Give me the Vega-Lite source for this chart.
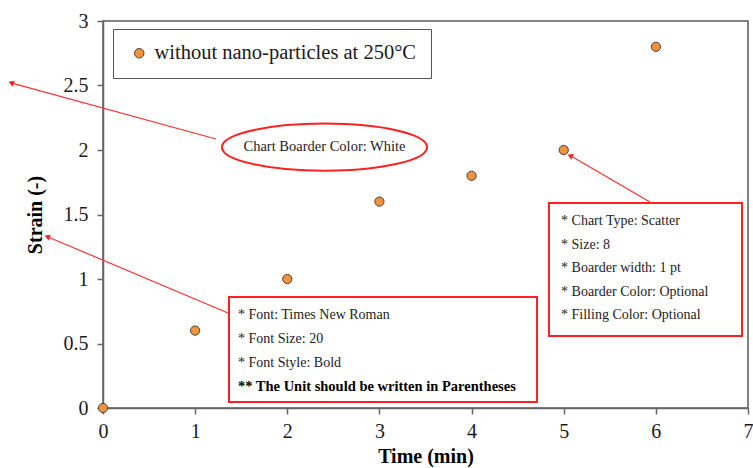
{
  "$schema": "https://vega.github.io/schema/vega-lite/v6.json",
  "width": 645,
  "height": 387,
  "autosize": {"type": "none"},
  "padding": {"left": 103, "top": 21, "right": 5, "bottom": 60},
  "background": "white",
  "config": {
    "view": {"stroke": "#595959", "strokeWidth": 1.5},
    "font": "Liberation Serif"
  },
  "datasets": {
    "points": [
      {"x": 0, "y": 0}, {"x": 1, "y": 0.6}, {"x": 2, "y": 1}, {"x": 3, "y": 1.6},
      {"x": 4, "y": 1.8}, {"x": 5, "y": 2}, {"x": 6, "y": 2.8}
    ],
    "boxes": [
      {"x": 1.3675, "y": 0.8605, "x2": 4.71, "y2": 0.0465},
      {"x": 4.84, "y": 1.589, "x2": 6.935, "y2": 0.558}
    ],
    "notes": [
      {"x": 1.465, "y": 0.721, "text": "* Font: Times New Roman"},
      {"x": 1.465, "y": 0.535, "text": "* Font Size: 20"},
      {"x": 1.465, "y": 0.349, "text": "* Font Style: Bold"},
      {"x": 4.971, "y": 1.45, "text": "* Chart Type: Scatter"},
      {"x": 4.971, "y": 1.267, "text": "* Size: 8"},
      {"x": 4.971, "y": 1.085, "text": "* Boarder width: 1 pt"},
      {"x": 4.971, "y": 0.903, "text": "* Boarder Color: Optional"},
      {"x": 4.971, "y": 0.721, "text": "* Filling Color: Optional"}
    ],
    "boldnotes": [
      {"x": 1.465, "y": 0.163, "text": "** The Unit should be written in Parentheses"}
    ],
    "ellipse": [
      {"x": 2.404, "y": 2.022, "text": "Chart Boarder Color: White"}
    ],
    "arrows": [
      {"x": 1.226, "y": 2.085, "x2": -0.988, "y2": 2.519},
      {"x": 1.357, "y": 0.736, "x2": -0.597, "y2": 1.326},
      {"x": 5.936, "y": 1.597, "x2": 5.079, "y2": 1.953}
    ],
    "heads": [
      {"x": -0.988, "y": 2.519},
      {"x": -0.597, "y": 1.326},
      {"x": 5.079, "y": 1.953}
    ]
  },
  "encoding": {
    "x": {
      "field": "x", "type": "quantitative",
      "scale": {"domain": [0, 7], "nice": false, "zero": false},
      "axis": {
        "values": [0, 1, 2, 3, 4, 5, 6, 7], "format": "~g", "grid": false,
        "domainColor": "#666666", "domainWidth": 1.5, "tickColor": "#666666", "tickSize": 6, "tickWidth": 1.5,
        "labelFont": "Liberation Serif", "labelFontSize": 20, "labelColor": "#1a1a1a", "labelPadding": 7, "labelFlush": false,
        "title": "Time (min)", "titleFont": "Liberation Serif", "titleFontSize": 20, "titleFontWeight": "bold", "titleColor": "#000000", "titlePadding": 5
      }
    },
    "y": {
      "field": "y", "type": "quantitative",
      "scale": {"domain": [0, 3], "nice": false, "zero": false},
      "axis": {
        "values": [0, 0.5, 1, 1.5, 2, 2.5, 3], "format": "~g", "grid": false,
        "domainColor": "#666666", "domainWidth": 1.5, "tickColor": "#666666", "tickSize": 6, "tickWidth": 1.5,
        "labelFont": "Liberation Serif", "labelFontSize": 20, "labelColor": "#1a1a1a", "labelPadding": 9, "labelFlush": false,
        "title": "Strain (-)", "titleFont": "Liberation Serif", "titleFontSize": 20, "titleFontWeight": "bold", "titleColor": "#000000", "titlePadding": 18
      }
    }
  },
  "layer": [
    {
      "data": {"name": "points"},
      "mark": {"type": "point", "filled": true, "size": 85, "stroke": "#404040", "strokeWidth": 1, "opacity": 1},
      "encoding": {
        "fill": {
          "datum": "without nano-particles at 250°C", "type": "nominal",
          "scale": {"range": ["#F4923B"]},
          "legend": {
            "orient": "none", "legendX": 10, "legendY": 8, "title": null,
            "padding": 14, "strokeColor": "#555555", "fillColor": "white",
            "labelFont": "Liberation Serif", "labelFontSize": 20.5, "labelColor": "#1a1a1a", "labelLimit": 500, "labelOffset": 5,
            "symbolType": "circle", "symbolSize": 90, "symbolStrokeColor": "#404040", "symbolStrokeWidth": 1, "symbolOffset": 2
          }
        }
      }
    },
    {
      "data": {"name": "boxes"},
      "mark": {"type": "rect", "fill": "white", "stroke": "#FF2020", "strokeWidth": 2},
      "encoding": {"x2": {"field": "x2"}, "y2": {"field": "y2"}}
    },
    {
      "data": {"name": "notes"},
      "mark": {"type": "text", "align": "left", "baseline": "middle", "font": "Liberation Serif", "fontSize": 14, "color": "#222222"},
      "encoding": {"text": {"field": "text"}}
    },
    {
      "data": {"name": "boldnotes"},
      "mark": {"type": "text", "align": "left", "baseline": "middle", "font": "Liberation Serif", "fontSize": 14.5, "fontWeight": "bold", "color": "#000000"},
      "encoding": {"text": {"field": "text"}}
    },
    {
      "data": {"name": "ellipse"},
      "mark": {"type": "point", "shape": "M -1 0 A 1 0.23 0 1 0 1 0 A 1 0.23 0 1 0 -1 0 Z", "size": 42025, "filled": false, "stroke": "#FF2020", "strokeWidth": 2, "opacity": 1}
    },
    {
      "data": {"name": "ellipse"},
      "mark": {"type": "text", "align": "center", "baseline": "middle", "font": "Liberation Serif", "fontSize": 14.5, "color": "#222222"},
      "encoding": {"text": {"field": "text"}}
    },
    {
      "data": {"name": "arrows"},
      "mark": {"type": "rule", "color": "#FF3030", "strokeWidth": 1.2},
      "encoding": {"x2": {"field": "x2"}, "y2": {"field": "y2"}}
    },
    {
      "data": {"name": "heads"},
      "mark": {"type": "point", "shape": "triangle", "filled": true, "size": 40, "angle": 292, "color": "#FF2020", "opacity": 1}
    }
  ]
}
